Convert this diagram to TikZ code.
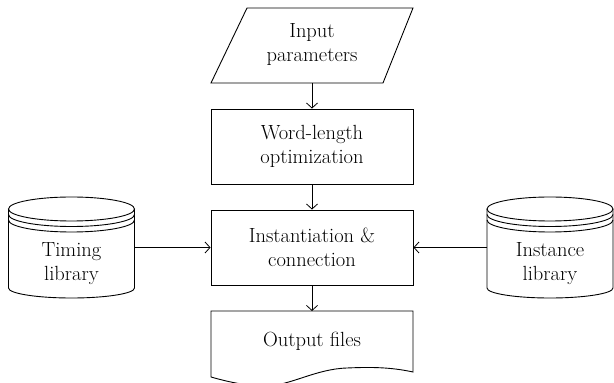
\documentclass[tikz,border=0pt]{standalone}
\usetikzlibrary{arrows.meta}
\begin{document}
\begin{tikzpicture}[x=1pt,y=1pt,line width=0.9pt,
  lbl/.style={font=\fontsize{20.5}{24}\selectfont,align=center,inner sep=0pt},
  procbox/.style={draw,minimum width=202pt,minimum height=75pt,lbl},
  flow/.style={-{Straight Barb[length=5pt,width=11pt]},line width=0.8pt},
  pics/drum/.style={code={
    \draw (-63,0) -- (-63,-79) arc[start angle=180,end angle=360,x radius=63,y radius=10] -- (63,0);
    \draw (0,0) ellipse[x radius=63,y radius=12];
    \draw (-63,-5.5) arc[start angle=180,end angle=360,x radius=63,y radius=12];
    \draw (-63,-11) arc[start angle=180,end angle=360,x radius=63,y radius=12];
  }}]
\useasboundingbox (0,0) rectangle (614,383);

% input data (parallelogram)
\draw (247,375) -- (413,375) -- (383,300) -- (211,300) -- cycle;
\node[lbl] (inp) at (312,338) {Input\\parameters};
\coordinate (inpb) at (312,300);

% process steps
\node[procbox] (wl) at (312,236.5) {Word-length\\optimization};
\node[procbox] (inst) at (312,135.5) {Instantiation \&\\connection};

% output document with wavy lower edge
\draw (211,72) -- (413,72) -- (413,11)
  .. controls (390,16) and (370,16) .. (347,15)
  .. controls (315,14) and (290,-3) .. (265,-3)
  .. controls (245,-3) and (225,2) .. (211,6) -- cycle;
\coordinate (outt) at (312,72);
\node[lbl] (out) at (312,42) {Output files};

% libraries (stored data)
\pic at (71.5,174) {drum};
\pic at (550,174) {drum};
\node[lbl] (tim) at (71.5,119) {Timing\\library};
\node[lbl] (ins) at (550,119) {Instance\\library};
\coordinate (tcr) at (134.5,135.5);
\coordinate (icl) at (487,135.5);

% connectors
\draw[flow] (inpb) -- (wl.north);
\draw[flow] (wl.south) -- (inst.north);
\draw[flow] (inst.south) -- (outt);
\draw[flow] (tcr) -- (inst.west);
\draw[flow] (icl) -- (inst.east);
\end{tikzpicture}
\end{document}
